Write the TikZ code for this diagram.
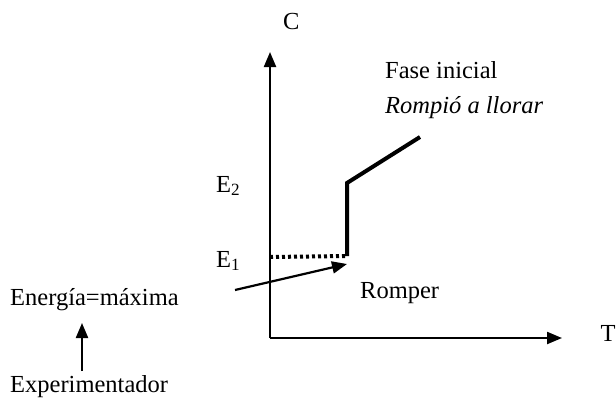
\documentclass[tikz,border=0pt]{standalone}
\usepackage{fontspec}
\setmainfont{Liberation Serif}
\usetikzlibrary{arrows.meta}
\begin{document}
\begin{tikzpicture}[x=1pt,y=-1pt,
  lbl/.style={inner sep=0pt,anchor=west,font=\fontsize{24.5}{28}\selectfont},
  axis/.style={line width=2.2pt,-{Triangle[length=15pt,width=12pt]}},
  thickline/.style={line width=4pt},
  dotline/.style={line width=4pt,dash pattern=on 3pt off 3pt},
  arr/.style={line width=2.2pt,-{Triangle[length=15pt,width=12pt]}}]
\useasboundingbox (0,0) rectangle (616,405);
% axes
\coordinate (o) at (270,338);
\coordinate (ytip) at (270,52);
\coordinate (xtip) at (562,338);
\draw[axis] (o) -- (ytip);
\draw[axis] (o) -- (xtip);
\node[lbl] (C) at (283,22) {C};
\node[lbl] (T) at (600.5,333) {T};
\node[lbl] (E2) at (216,186) {E\textsubscript{2}};
\node[lbl] (E1) at (216,261) {E\textsubscript{1}};
% curve
\coordinate (d0) at (270,257);
\coordinate (d1) at (347,256);
\coordinate (v1) at (347,183);
\coordinate (v2) at (420,137);
\draw[dotline] (d0) -- (d1);
\draw[thickline,line join=miter] (d1) -- (v1) -- (v2);
\node[lbl] (fase) at (385,70) {Fase inicial};
\node[lbl] (rompio) at (385,108) {\itshape Rompió a llorar};
\node[lbl] (romper) at (360,293) {Romper};
\node[lbl] (energia) at (10,300) {Energía=máxima};
\node[lbl] (exp) at (10,387) {Experimentador};
% arrows
\coordinate (a0) at (235,290);
\coordinate (a1) at (347,264);
\draw[arr] (a0) -- (a1);
\coordinate (b0) at (82,371);
\coordinate (b1) at (82,323);
\draw[arr] (b0) -- (b1);
\end{tikzpicture}
\end{document}
